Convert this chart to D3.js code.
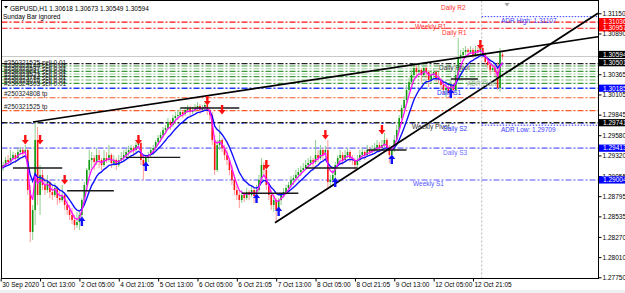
<!DOCTYPE html>
<html>
<head>
<meta charset="utf-8">
<script src="https://cdn.jsdelivr.net/npm/d3@7"></script>
<style>
  body { margin: 0; background: #ffffff; }
  svg text { font-family: "Liberation Sans", Arial, sans-serif; }
</style>
</head>
<body>
<div id="chart"></div>
<script>
// ---- chart values ----
const symbolTitle = "GBPUSD,H1";
const lastBar = [1.30618, 1.30673, 1.30549, 1.30594];
const noteText = "Sunday Bar ignored";

const timeTickBars = [0, 16, 32, 48, 64, 80, 96, 112, 128, 144, 160, 176, 192];
const timeLabels = ["30 Sep 2020", "1 Oct 13:00", "2 Oct 05:00", "4 Oct 21:05", "5 Oct 13:00",
  "6 Oct 05:00", "6 Oct 21:05", "7 Oct 13:00", "8 Oct 05:00", "8 Oct 21:05", "9 Oct 13:00",
  "12 Oct 05:00", "12 Oct 21:05"];

const priceTicks = [1.31150, 1.30890, 1.30630, 1.30365, 1.30105, 1.29845, 1.29580,
  1.29320, 1.29055, 1.28795, 1.28535, 1.28270, 1.28010, 1.27750];

// H1 bars: [open, high, low, close]
const ohlc = [
  [1.29106,1.29196,1.29067,1.29157],[1.29157,1.29235,1.29119,1.29196],[1.29196,1.29299,1.29170,1.29261],
  [1.29261,1.29325,1.29196,1.29235],[1.29235,1.29389,1.29209,1.29286],[1.29286,1.29364,1.29261,1.29325],
  [1.29325,1.29351,1.29222,1.29286],[1.29286,1.29415,1.29261,1.29364],[1.29364,1.29428,1.29325,1.29389],
  [1.29389,1.29415,1.29299,1.29351],[1.29351,1.29454,1.29325,1.29389],[1.29389,1.29415,1.28810,1.28874],
  [1.28874,1.28939,1.28205,1.28333],[1.28333,1.28681,1.28230,1.28617],[1.28617,1.29750,1.28423,1.29518],
  [1.29518,1.29685,1.28681,1.28810],[1.28810,1.29196,1.28552,1.29067],[1.29067,1.29132,1.28874,1.28939],
  [1.28939,1.29029,1.28810,1.28874],[1.28874,1.29067,1.28836,1.28977],[1.28977,1.29003,1.28771,1.28848],
  [1.28848,1.28939,1.28745,1.28810],[1.28810,1.28964,1.28784,1.28900],[1.28900,1.28926,1.28681,1.28771],
  [1.28771,1.28874,1.28707,1.28745],[1.28745,1.28939,1.28720,1.28810],[1.28810,1.28848,1.28617,1.28681],
  [1.28681,1.28745,1.28552,1.28617],[1.28617,1.28681,1.28488,1.28552],[1.28552,1.28642,1.28436,1.28488],
  [1.28488,1.28552,1.28359,1.28423],[1.28423,1.28591,1.28385,1.28462],[1.28462,1.28617,1.28359,1.28552],
  [1.28552,1.28771,1.28514,1.28745],[1.28745,1.28977,1.28681,1.28939],[1.28939,1.29157,1.28874,1.29132],
  [1.29132,1.29389,1.29067,1.29261],[1.29261,1.29364,1.29157,1.29286],[1.29286,1.29325,1.29132,1.29235],
  [1.29235,1.29415,1.29196,1.29325],[1.29325,1.29389,1.29157,1.29261],[1.29261,1.29286,1.29132,1.29196],
  [1.29196,1.29389,1.29170,1.29286],[1.29286,1.29364,1.29222,1.29261],[1.29261,1.29454,1.29235,1.29325],
  [1.29325,1.29351,1.29157,1.29222],[1.29222,1.29325,1.29183,1.29261],[1.29261,1.29286,1.29132,1.29196],
  [1.29196,1.29325,1.29170,1.29261],[1.29261,1.29364,1.29222,1.29286],[1.29286,1.29389,1.29235,1.29325],
  [1.29325,1.29415,1.29286,1.29364],[1.29364,1.29441,1.29312,1.29389],[1.29389,1.29454,1.29351,1.29415],
  [1.29415,1.29441,1.29325,1.29389],[1.29389,1.29492,1.29364,1.29454],[1.29454,1.29505,1.29415,1.29479],
  [1.29479,1.29518,1.29196,1.29261],[1.29261,1.29325,1.29003,1.29196],[1.29196,1.29325,1.29157,1.29286],
  [1.29286,1.29364,1.29235,1.29325],[1.29325,1.29428,1.29286,1.29389],[1.29389,1.29454,1.29325,1.29415],
  [1.29415,1.29518,1.29389,1.29492],[1.29492,1.29582,1.29454,1.29544],[1.29544,1.29621,1.29492,1.29582],
  [1.29582,1.29685,1.29544,1.29647],[1.29647,1.29711,1.29595,1.29673],[1.29673,1.29801,1.29647,1.29750],
  [1.29750,1.29776,1.29647,1.29711],[1.29711,1.29840,1.29685,1.29801],[1.29801,1.29879,1.29750,1.29827],
  [1.29827,1.29904,1.29776,1.29840],[1.29840,1.29930,1.29814,1.29879],[1.29879,1.29904,1.29801,1.29853],
  [1.29853,1.29943,1.29827,1.29904],[1.29904,1.29969,1.29866,1.29930],[1.29930,1.29956,1.29827,1.29879],
  [1.29879,1.29943,1.29853,1.29904],[1.29904,1.29982,1.29879,1.29930],[1.29930,1.30007,1.29904,1.29956],
  [1.29956,1.29982,1.29853,1.29904],[1.29904,1.29969,1.29879,1.29930],[1.29930,1.29995,1.29904,1.29969],
  [1.29969,1.29982,1.29840,1.29904],[1.29904,1.29930,1.29776,1.29840],[1.29840,1.29879,1.29454,1.29518],
  [1.29518,1.29582,1.29067,1.29132],[1.29132,1.29518,1.29106,1.29454],[1.29454,1.29711,1.29389,1.29518],
  [1.29518,1.29544,1.29364,1.29415],[1.29415,1.29454,1.29261,1.29325],[1.29325,1.29389,1.29196,1.29261],
  [1.29261,1.29286,1.29067,1.29132],[1.29132,1.29196,1.28939,1.29003],[1.29003,1.29067,1.28810,1.28874],
  [1.28874,1.28939,1.28745,1.28810],[1.28810,1.28874,1.28642,1.28745],[1.28745,1.28874,1.28707,1.28810],
  [1.28810,1.28848,1.28720,1.28771],[1.28771,1.28900,1.28745,1.28848],[1.28848,1.28874,1.28745,1.28810],
  [1.28810,1.28939,1.28784,1.28874],[1.28874,1.28900,1.28707,1.28797],[1.28797,1.28939,1.28771,1.28874],
  [1.28874,1.29067,1.28848,1.29003],[1.29003,1.29286,1.28977,1.29196],[1.29196,1.29235,1.29067,1.29132],
  [1.29132,1.29157,1.28874,1.28939],[1.28939,1.28977,1.28745,1.28810],[1.28810,1.28874,1.28617,1.28681],
  [1.28681,1.28810,1.28591,1.28745],[1.28745,1.28771,1.28462,1.28617],[1.28617,1.28771,1.28591,1.28745],
  [1.28745,1.28836,1.28681,1.28810],[1.28810,1.28900,1.28771,1.28848],[1.28848,1.28939,1.28810,1.28900],
  [1.28900,1.28977,1.28848,1.28939],[1.28939,1.29054,1.28900,1.29003],[1.29003,1.29067,1.28939,1.29029],
  [1.29029,1.29132,1.28977,1.29067],[1.29067,1.29157,1.29029,1.29106],[1.29106,1.29183,1.29054,1.29132],
  [1.29132,1.29222,1.29106,1.29157],[1.29157,1.29261,1.29132,1.29196],[1.29196,1.29286,1.29157,1.29222],
  [1.29222,1.29312,1.29183,1.29261],[1.29261,1.29286,1.29157,1.29235],[1.29235,1.29518,1.29209,1.29325],
  [1.29325,1.29389,1.29235,1.29286],[1.29286,1.29454,1.29261,1.29389],[1.29389,1.29415,1.29261,1.29325],
  [1.29325,1.29441,1.29286,1.29389],[1.29389,1.29518,1.28900,1.28977],[1.28977,1.29067,1.28900,1.29003],
  [1.29003,1.29132,1.28964,1.29067],[1.29067,1.29235,1.29029,1.29196],[1.29196,1.29325,1.29157,1.29286],
  [1.29286,1.29389,1.29261,1.29325],[1.29325,1.29364,1.29196,1.29261],[1.29261,1.29389,1.29235,1.29325],
  [1.29325,1.29415,1.29286,1.29364],[1.29364,1.29389,1.29235,1.29286],[1.29286,1.29325,1.29196,1.29261],
  [1.29261,1.29286,1.29106,1.29196],[1.29196,1.29325,1.29157,1.29261],[1.29261,1.29389,1.29235,1.29325],
  [1.29325,1.29415,1.29286,1.29364],[1.29364,1.29389,1.29261,1.29325],[1.29325,1.29454,1.29299,1.29389],
  [1.29389,1.29428,1.29312,1.29364],[1.29364,1.29454,1.29325,1.29389],[1.29389,1.29479,1.29364,1.29415],
  [1.29415,1.29518,1.29389,1.29454],[1.29454,1.29492,1.29364,1.29415],[1.29415,1.29518,1.29389,1.29454],
  [1.29454,1.29608,1.29428,1.29518],[1.29518,1.29544,1.29364,1.29415],[1.29415,1.29454,1.29222,1.29325],
  [1.29325,1.29441,1.29286,1.29389],[1.29389,1.29582,1.29364,1.29518],[1.29518,1.29711,1.29492,1.29647],
  [1.29647,1.29840,1.29621,1.29801],[1.29801,1.29969,1.29776,1.29930],[1.29930,1.30085,1.29904,1.30033],
  [1.30033,1.30226,1.29995,1.30162],[1.30162,1.30317,1.30098,1.30265],[1.30265,1.30420,1.30226,1.30355],
  [1.30355,1.30510,1.30317,1.30445],[1.30445,1.30484,1.30317,1.30394],[1.30394,1.30497,1.30355,1.30420],
  [1.30420,1.30445,1.30265,1.30355],[1.30355,1.30523,1.30329,1.30445],[1.30445,1.30471,1.30317,1.30394],
  [1.30394,1.30420,1.30201,1.30291],[1.30291,1.30420,1.30252,1.30355],[1.30355,1.30445,1.30317,1.30394],
  [1.30394,1.30420,1.30265,1.30317],[1.30317,1.30394,1.30239,1.30291],[1.30291,1.30317,1.30162,1.30226],
  [1.30226,1.30265,1.30110,1.30162],[1.30162,1.30291,1.30072,1.30188],[1.30188,1.30226,1.30098,1.30136],
  [1.30136,1.30291,1.30110,1.30226],[1.30226,1.30252,1.30098,1.30162],[1.30162,1.30420,1.30136,1.30355],
  [1.30355,1.30832,1.30317,1.30574],[1.30574,1.30677,1.30523,1.30613],[1.30613,1.30703,1.30574,1.30651],
  [1.30651,1.30729,1.30613,1.30677],[1.30677,1.30703,1.30600,1.30651],[1.30651,1.30729,1.30626,1.30677],
  [1.30677,1.30703,1.30574,1.30613],[1.30613,1.30729,1.30587,1.30677],[1.30677,1.30716,1.30613,1.30651],
  [1.30651,1.30754,1.30626,1.30703],[1.30703,1.30729,1.30574,1.30613],[1.30613,1.30651,1.30484,1.30523],
  [1.30523,1.30574,1.30445,1.30484],[1.30484,1.30548,1.30355,1.30420],[1.30420,1.30497,1.30394,1.30445],
  [1.30445,1.30471,1.30342,1.30394],[1.30394,1.30523,1.30162,1.30188],[1.30188,1.30703,1.30136,1.30651],
  [1.30618,1.30673,1.30549,1.30594]
];

// fractal arrows: [bar index, price]
const upFractals = [[10,1.29518],[16,1.29518],[26,1.29003],[56,1.29518],[84,1.30020],[90,1.29904],
  [108,1.29196],[132,1.29582],[155,1.29647],[195,1.30742]];
const downFractals = [[33,1.28475],[59,1.29183],[104,1.28771],[113,1.28604],[136,1.28977],
  [159,1.29273],[183,1.30123]];

// support / resistance segments: [from bar, to bar, price]
const srSegments = [[5,25,1.29157],[27,46,1.28865],[51,73,1.29295],[73,97,1.29930],[98,121,1.28832],
  [124,145,1.29157],[149,165,1.29389],[183,194,1.30304]];

// trendlines: [bar, price, bar, price]
const trendLines = [[13.1,1.29750,242.8,1.30848],[111.5,1.28453,242.8,1.31150]];

// pivot / level lines
const levelNames = ["Weekly R1", "Daily R1", "Daily Pivot", "Daily S1", "Weekly Pivot", "Daily S2", "Daily S3", "Weekly S1"];
const levelPrices = [1.31036, 1.30957, 1.30501, 1.30185, 1.29741, 1.29730, 1.29413, 1.29004];
const dailyR2Price = 1.31279;
const adrHigh = 1.31107;
const adrLow = 1.29709;
const adrStart = 1.30291;
const gridLevels = [1.30471, 1.30436, 1.30403, 1.30368, 1.30334, 1.30291, 1.30248];
const takeProfits = [1.30063, 1.29896];
const orderLabels = ["#250321525 sell 0.01", "#250322140 sell 0.01", "#250322587 sell 0.01", "#250323041 sell 0.01",
  "#250323523 sell 0.01", "#250323784 sell 0.01", "#250324016 sell 0.01", "#250324303 sell 0.01"];
const tpLabels = ["#250324808 tp", "#250321525 tp"];
const priceBoxes = [1.31036, 1.30957, 1.30594, 1.30501, 1.30185, 1.29741, 1.29413, 1.29004];

// ---- layout ----
const W = 625, H = 293;
const plotL = 1.5, plotR = 598.5, plotT = 0.5, plotB = 278.5;

const svg = d3.select("#chart").append("svg")
  .attr("width", W).attr("height", H)
  .style("display", "block");

svg.append("rect").attr("width", W).attr("height", H).attr("fill", "#ffffff");
svg.append("rect").attr("x", 0).attr("y", 290).attr("width", W).attr("height", 3).attr("fill", "#f0f0f0");

const x = d3.scaleLinear().domain([0, ohlc.length - 1]).range([0.7, 502.5]);
const y = d3.scaleLinear().domain([1.27750, 1.31150]).range([277.3, 13.3]);

svg.append("clipPath").attr("id", "plotClip")
  .append("rect").attr("x", plotL).attr("y", plotT).attr("width", plotR - plotL).attr("height", plotB - plotT);

const plot = svg.append("g").attr("clip-path", "url(#plotClip)");

const dashDot = "6,2,2,2";

// current day separator
plot.append("line")
  .attr("x1", 481.7).attr("x2", 481.7).attr("y1", plotT).attr("y2", plotB)
  .attr("stroke", "#b4b4b4").attr("stroke-dasharray", "2,2");

// bid line
plot.append("line")
  .attr("x1", plotL).attr("x2", plotR).attr("y1", y(lastBar[3])).attr("y2", y(lastBar[3]))
  .attr("stroke", "#c8c8c8");

// grid of order levels
const gridColors = ["#3c9c3c", "#9ccc9c", "#3c9c3c", "#9ccc9c", "#3c9c3c", "#6cb46c", "#3c9c3c"];
plot.append("g").selectAll("line").data(gridLevels).join("line")
  .attr("x1", plotL).attr("x2", plotR)
  .attr("y1", d => y(d)).attr("y2", d => y(d))
  .attr("stroke", (d, i) => gridColors[i])
  .attr("stroke-width", 1.2)
  .attr("stroke-dasharray", dashDot);

// take profit lines
plot.append("g").selectAll("line").data(takeProfits).join("line")
  .attr("x1", plotL).attr("x2", plotR)
  .attr("y1", d => y(d)).attr("y2", d => y(d))
  .attr("stroke", "#ff5a28").attr("stroke-width", 1.1)
  .attr("stroke-dasharray", dashDot);

// pivot lines
const levelStyle = {
  "Weekly R1": { color: "#ff1010", width: 1.1, tx: 415, txt: "#ff3030" },
  "Daily R1": { color: "#ff1010", width: 1.1, tx: 442, txt: "#ff3030" },
  "Daily Pivot": { color: "#202020", width: 1.2, tx: 439, txt: "#404040" },
  "Daily S1": { color: "#1e3cff", width: 1.6, tx: 437, txt: "#2030ff" },
  "Weekly Pivot": { color: "#202020", width: 1.6, tx: 412, txt: "#303030" },
  "Daily S2": { color: "#3040ff", width: 1.0, tx: 443, txt: "#3040ff" },
  "Daily S3": { color: "#8c8cff", width: 1.6, tx: 443, txt: "#6e6eff" },
  "Weekly S1": { color: "#8c8cff", width: 1.6, tx: 413, txt: "#5050ff" }
};
plot.append("g").selectAll("line").data(levelPrices).join("line")
  .attr("x1", plotL).attr("x2", plotR)
  .attr("y1", d => y(d)).attr("y2", d => y(d))
  .attr("stroke", (d, i) => levelStyle[levelNames[i]].color)
  .attr("stroke-width", (d, i) => levelStyle[levelNames[i]].width)
  .attr("stroke-dasharray", (d, i) => levelNames[i] === "Daily S2" ? "2,8" : dashDot);

// ADR high / low dotted lines from today's start
plot.append("g").selectAll("line").data([adrHigh, adrLow]).join("line")
  .attr("x1", 481.7).attr("x2", plotR)
  .attr("y1", d => y(d)).attr("y2", d => y(d))
  .attr("stroke", "#3c3cff").attr("stroke-dasharray", "1.5,1.5");

// candles
const bars = plot.append("g");
bars.selectAll("line").data(ohlc).join("line")
  .attr("x1", (d, i) => x(i)).attr("x2", (d, i) => x(i))
  .attr("y1", d => y(d[1])).attr("y2", d => y(d[2]))
  .attr("stroke", d => d[3] >= d[0] ? "#8fd08f" : "#ff9a9a")
  .attr("stroke-width", 1);
bars.selectAll("rect").data(ohlc).join("rect")
  .attr("x", (d, i) => x(i) - 0.8)
  .attr("width", 1.6)
  .attr("y", d => y(Math.max(d[0], d[3])))
  .attr("height", d => Math.max(1, Math.abs(y(d[0]) - y(d[3]))))
  .attr("fill", d => d[3] >= d[0] ? "#0f9a0f" : "#ff1414");

// moving averages of the closes
function ema(values, n) {
  const k = 2 / (n + 1);
  let prev = values[0];
  return values.map((v, i) => (prev = i === 0 ? v : v * k + prev * (1 - k)));
}
const closes = ohlc.map(d => d[3]);
const maLine = d3.line().x((d, i) => x(i)).y(d => y(d));
plot.append("path").datum(ema(closes, 10))
  .attr("d", maLine).attr("fill", "none").attr("stroke", "#1010ff").attr("stroke-width", 1.4);
plot.append("path").datum(ema(closes, 4))
  .attr("d", maLine).attr("fill", "none").attr("stroke", "#ff10ff").attr("stroke-width", 1.3);

// support / resistance segments
plot.append("g").selectAll("line").data(srSegments).join("line")
  .attr("x1", d => x(d[0])).attr("x2", d => x(d[1]))
  .attr("y1", d => y(d[2])).attr("y2", d => y(d[2]))
  .attr("stroke", "#1a1a1a").attr("stroke-width", 1.4);

// trendlines
plot.append("g").selectAll("line").data(trendLines).join("line")
  .attr("x1", d => x(d[0])).attr("y1", d => y(d[1]))
  .attr("x2", d => x(d[2])).attr("y2", d => y(d[3]))
  .attr("stroke", "#000000").attr("stroke-width", 1.7);

// fractal arrows
const downArrow = "M-1.2,-5 L1.2,-5 L1.2,0 L3.5,0 L0,4.5 L-3.5,0 L-1.2,0 Z";
const upArrow = "M-1.2,5 L1.2,5 L1.2,0 L3.5,0 L0,-4.5 L-3.5,0 L-1.2,0 Z";
plot.append("g").selectAll("path").data(upFractals).join("path")
  .attr("transform", d => `translate(${x(d[0])},${y(d[1])})`)
  .attr("d", downArrow).attr("fill", "#ff1010");
plot.append("g").selectAll("path").data(downFractals).join("path")
  .attr("transform", d => `translate(${x(d[0])},${y(d[1])})`)
  .attr("d", upArrow).attr("fill", "#1010ff");

// level captions
const fs = "6.5px";
const caption = (txt, cx, price, color, dy) => plot.append("text")
  .attr("x", cx).attr("y", y(price) + dy)
  .attr("fill", color).style("font-size", fs).text(txt);
caption("Daily R2", 441, dailyR2Price, "#ff3030", 6.5);
levelNames.forEach((name, i) => {
  const st = levelStyle[name];
  caption(name, st.tx, levelPrices[i], st.txt, name === "Daily S2" ? 7 : 6.5);
});
caption("ADR Start", 467, adrStart, "#9aaa9a", 6.5);
caption("ADR High: " + adrHigh.toFixed(5), 501, adrHigh, "#3c3cff", 6.5);
caption("ADR Low: " + adrLow.toFixed(5), 501, adrLow, "#3c3cff", 6.5);

// order labels
plot.append("g").selectAll("text").data(orderLabels).join("text")
  .attr("x", 4).attr("y", (d, i) => 65 + i * 2.95)
  .attr("fill", "#1a1a1a").style("font-size", fs).text(d => d);
plot.append("g").selectAll("text").data(tpLabels).join("text")
  .attr("x", 4).attr("y", (d, i) => y(takeProfits[i]) - 1.5)
  .attr("fill", "#1a1a1a").style("font-size", fs).text(d => d);

// header
svg.append("path").attr("d", "M4,6 L8,6 L6,8.5 Z").attr("fill", "#000");
svg.append("text").attr("x", 10).attr("y", 10.5).style("font-size", fs).attr("fill", "#000")
  .text(`${symbolTitle}  ${lastBar.map(v => v.toFixed(5)).join(" ")}`);
svg.append("text").attr("x", 3).attr("y", 19).style("font-size", fs).attr("fill", "#000")
  .text(noteText);
svg.append("path").attr("d", "M504.5,3 L509.5,3 L507,6.5 Z").attr("fill", "#a0a0a0");

// frame
svg.append("rect")
  .attr("x", plotL).attr("y", plotT).attr("width", plotR - plotL).attr("height", plotB - plotT)
  .attr("fill", "none").attr("stroke", "#000").attr("stroke-width", 1);

// price axis
const yAxis = d3.axisRight(y).tickValues(priceTicks).tickFormat(d3.format(".5f")).tickSize(3).tickPadding(1);
svg.append("g").attr("transform", `translate(${plotR},0)`)
  .call(yAxis)
  .call(g => g.select(".domain").remove())
  .call(g => g.selectAll("text").style("font-size", fs).attr("fill", "#000"))
  .call(g => g.selectAll("line").attr("stroke", "#000"));

// price boxes
const boxColors = ["#ff0000", "#ff0000", "#000000", "#000000", "#0000ff", "#000000", "#0000ff", "#0000ff"];
const boxShift = [-0.5, -0.5, -2, -1, 0, 0, 0, 0];
const boxG = svg.append("g").selectAll("g").data(priceBoxes).join("g")
  .attr("transform", (d, i) => `translate(${plotR + 0.5},${y(d) + boxShift[i]})`);
boxG.append("rect").attr("x", 0).attr("y", -3.6).attr("width", 26).attr("height", 7.2)
  .attr("fill", (d, i) => boxColors[i]);
boxG.append("text").attr("x", 4).attr("y", 2.3).attr("fill", "#fff").style("font-size", fs)
  .text(d => d.toFixed(5));

// time axis
const xAxis = d3.axisBottom(x).tickValues(timeTickBars)
  .tickFormat((d, i) => timeLabels[i]).tickSize(3).tickPadding(1);
svg.append("g").attr("transform", `translate(0,${plotB})`)
  .call(xAxis)
  .call(g => g.select(".domain").remove())
  .call(g => g.selectAll("text").style("font-size", fs).attr("fill", "#000")
    .attr("text-anchor", "start").attr("dx", 1))
  .call(g => g.selectAll("line").attr("stroke", "#000"));
</script>
</body>
</html>
